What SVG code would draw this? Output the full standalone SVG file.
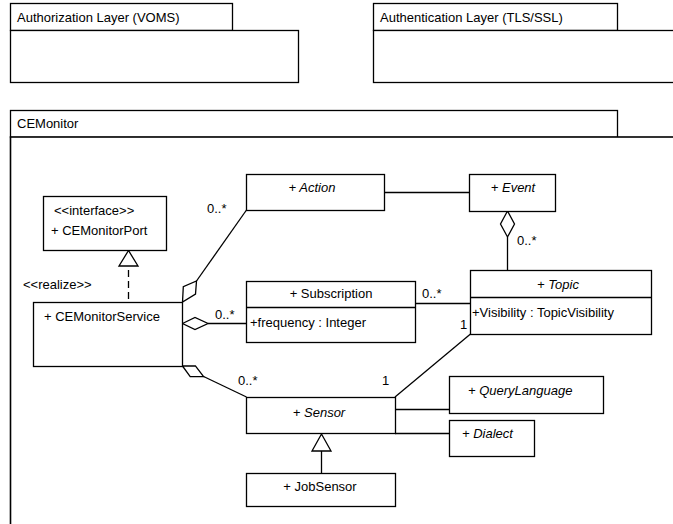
<svg xmlns="http://www.w3.org/2000/svg" width="673" height="524" viewBox="0 0 673 524">
<style>
.b{fill:#fff;stroke:#000;stroke-width:1.3}
.l{fill:none;stroke:#000;stroke-width:1.3}
.d{fill:#fff;stroke:#000;stroke-width:1.3}
text{font-family:"Liberation Sans",Arial,sans-serif;font-size:13px;fill:#000}
.i{font-style:italic}
.m{text-anchor:middle}
</style>
<rect width="673" height="524" fill="#fff"/>
<g id="pkg-authorization">
<rect class="b" x="10.5" y="3.5" width="222" height="27"/>
<rect class="b" x="10.5" y="30.5" width="288" height="52"/>
<text x="17" y="22">Authorization Layer (VOMS)</text>
</g>
<g id="pkg-authentication">
<rect class="b" x="373.5" y="3.5" width="244" height="27"/>
<rect class="b" x="373.5" y="30.5" width="310" height="52"/>
<text x="380" y="22">Authentication Layer (TLS/SSL)</text>
</g>
<g id="pkg-cemonitor">
<rect class="b" x="10.5" y="110.5" width="607" height="27"/>
<rect class="b" x="10.5" y="137" width="673" height="400" style="stroke-width:1.6"/>
<text x="17" y="128">CEMonitor</text>
</g>
<g id="connectors">
<line class="l" x1="128.5" y1="266" x2="128.5" y2="302" stroke-dasharray="7,4" stroke-dashoffset="7"/>
<polygon class="d" points="128.5,250.5 119,266 138,266"/>
<line class="l" x1="384" y1="192.5" x2="469" y2="192.5"/>
<line class="l" x1="507.5" y1="237" x2="507.5" y2="270"/>
<polygon class="d" points="507.5,211 500.5,224 507.5,237 514.5,224"/>
<line class="l" x1="196.5" y1="281" x2="246.5" y2="210"/>
<polygon class="d" points="182.5,302 183.3,286.7 196.5,281 195.5,294"/>
<line class="l" x1="208" y1="323.5" x2="246" y2="323.5"/>
<polygon class="d" points="182.5,323.5 195,317.5 208,323.5 195,329.5"/>
<line class="l" x1="415" y1="303.5" x2="470" y2="303.5"/>
<line class="l" x1="203.6" y1="376.5" x2="246.5" y2="397"/>
<polygon class="d" points="182.5,366 190.2,376.6 203.6,376.5 195.4,365.8"/>
<line class="l" x1="470.5" y1="334" x2="395" y2="397"/>
<line class="l" x1="395" y1="409.5" x2="449" y2="409.5"/>
<line class="l" x1="395" y1="433.5" x2="449" y2="433.5"/>
<line class="l" x1="321.5" y1="451" x2="321.5" y2="473"/>
<polygon class="d" points="321.5,434 312,451 331,451"/>
<text x="207" y="213">0..*</text>
<text x="517" y="244.5">0..*</text>
<text x="215" y="318.5">0..*</text>
<text x="422" y="297.5">0..*</text>
<text x="460" y="328.5">1</text>
<text x="238" y="384.5">0..*</text>
<text x="382" y="384.5">1</text>
<text x="23" y="289">&lt;&lt;realize&gt;&gt;</text>
</g>
<g id="CEMonitorPort">
<rect class="b" x="43.5" y="196.5" width="123" height="54"/>
<text x="54" y="215">&lt;&lt;interface&gt;&gt;</text>
<text x="51" y="234.5">+ CEMonitorPort</text>
</g>
<g id="CEMonitorService">
<rect class="b" x="33.5" y="302.5" width="149" height="64"/>
<text x="44" y="320.5">+ CEMonitorService</text>
</g>
<g id="Action">
<rect class="b" x="246.5" y="174.5" width="138" height="36"/>
<text class="i m" x="312" y="191.5">+ Action</text>
</g>
<g id="Event">
<rect class="b" x="469.5" y="174.5" width="86" height="37"/>
<text class="i m" x="513" y="191.5">+ Event</text>
</g>
<g id="Subscription">
<rect class="b" x="246.5" y="281.5" width="169" height="61"/>
<line class="l" x1="246.5" y1="307.5" x2="415.5" y2="307.5"/>
<text class="m" x="331" y="297.5">+ Subscription</text>
<text x="250" y="326.5">+frequency : Integer</text>
</g>
<g id="Topic">
<rect class="b" x="470.5" y="270.5" width="181" height="64"/>
<line class="l" x1="470.5" y1="297.5" x2="651.5" y2="297.5"/>
<text class="i m" x="558" y="288.5">+ Topic</text>
<text x="472" y="316.5">+Visibility : TopicVisibility</text>
</g>
<g id="Sensor">
<rect class="b" x="246.5" y="397.5" width="149" height="36"/>
<text class="i m" x="319" y="416.5">+ Sensor</text>
</g>
<g id="QueryLanguage">
<rect class="b" x="449.5" y="376.5" width="154" height="37"/>
<text class="i" x="468" y="394.5">+ QueryLanguage</text>
</g>
<g id="Dialect">
<rect class="b" x="449.5" y="420.5" width="85" height="36"/>
<text class="i" x="462" y="437.5">+ Dialect</text>
</g>
<g id="JobSensor">
<rect class="b" x="246.5" y="473.5" width="149" height="33"/>
<text class="m" x="320" y="490.5">+ JobSensor</text>
</g>
</svg>
